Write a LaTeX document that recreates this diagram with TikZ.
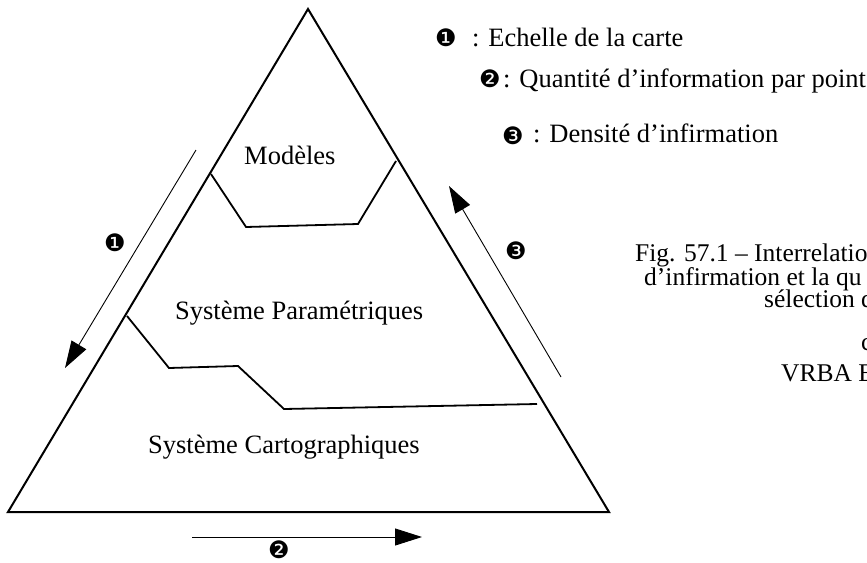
\documentclass[tikz,border=0pt]{standalone}
\usepackage{fontspec}
\setmainfont{Liberation Serif}
\newfontfamily\dingfont{DejaVu Sans}
\usetikzlibrary{arrows.meta}
\begin{document}
\begin{tikzpicture}[x=1pt,y=-1pt,
  edge/.style={line width=2pt, line join=miter},
  sepline/.style={line width=1.8pt, line join=miter},
  flow/.style={line width=0.9pt, -{Triangle[length=27pt,width=17pt]}},
  lbl/.style={font=\fontsize{26.5}{28}\selectfont, inner sep=0pt, anchor=base west},
  captext/.style={font=\fontsize{25.5}{26}\selectfont, inner sep=0pt, anchor=base west},
  num/.style={font=\dingfont\fontsize{24}{25}\selectfont, inner sep=0pt}]
\useasboundingbox (0,0) rectangle (867,562);
\begin{scope}
\clip (0,0) rectangle (867,562);
% triangle
\coordinate (A) at (308,9);
\coordinate (BL) at (8,512);
\coordinate (BR) at (609,512);
\draw[edge] (A) -- (BL) -- (BR) -- cycle;
% upper separator
\coordinate (u1) at (211,174);
\coordinate (u2) at (246,227);
\coordinate (u3) at (358,224);
\coordinate (u4) at (396,161);
\draw[sepline] (u1) -- (u2) -- (u3) -- (u4);
% lower separator
\coordinate (l1) at (127,316);
\coordinate (l2) at (169,368);
\coordinate (l3) at (238,366);
\coordinate (l4) at (284,409);
\coordinate (l5) at (537,404);
\draw[sepline] (l1) -- (l2) -- (l3) -- (l4) -- (l5);
% region labels
\node[lbl] (mod) at (244,164) {Modèles};
\node[lbl] (par) at (175,319) {Système Paramétriques};
\node[lbl] (car) at (148,453) {Système Cartographiques};
% arrows
\coordinate (a1s) at (196,150);
\coordinate (a1e) at (65,368);
\draw[flow] (a1s) -- (a1e);
\node[num] (n1) at (115,243) {❶};
\coordinate (a2s) at (192,537);
\coordinate (a2e) at (422,537);
\draw[flow] (a2s) -- (a2e);
\node[num] (n2) at (279,550) {❷};
\coordinate (a3s) at (561,377);
\coordinate (a3e) at (449,186);
\draw[flow] (a3s) -- (a3e);
\node[num] (n3) at (516,251) {❸};
% legend
\node[num] (k1) at (446,38) {❶};
\node[lbl] (t1) at (472,46) {: Echelle de la carte};
\node[num] (k2) at (490,79) {❷};
\node[lbl] (t2) at (503,87) {: Quantité d’information par point};
\node[num] (k3) at (513,136) {❸};
\node[lbl] (t3) at (533,142) {: Densité d’infirmation};
% caption (cut at the right edge)
\node[captext] (c1) at (635,261) {Fig. 57.1 – Interrelatio};
\node[captext] (c2) at (644,285) {d’infirmation et la qu};
\node[captext] (c3) at (764,307) {sélection d};
\node[captext] (c4) at (861,350) {c};
\node[captext] (c5) at (781,381) {VRBA E};
\end{scope}
\end{tikzpicture}
\end{document}
